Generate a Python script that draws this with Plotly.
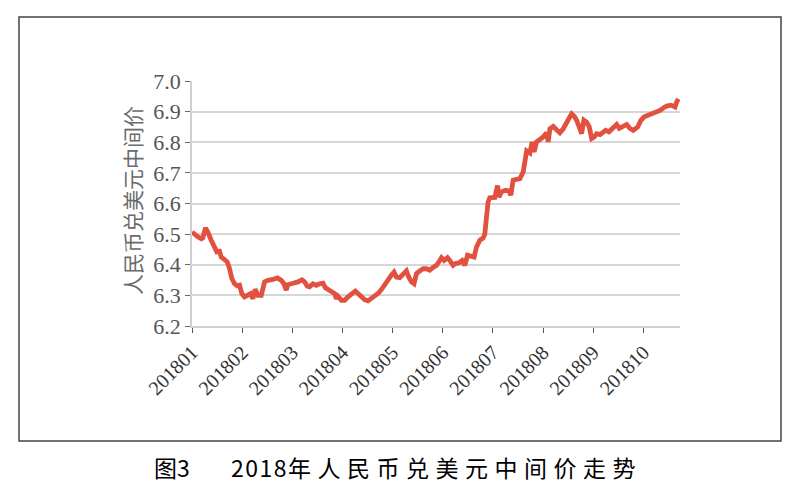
import plotly.graph_objects as go

# x position in months since 201801 (0 = Jan 2018), y = RMB/USD central parity
t = [0.000, 0.050, 0.116, 0.184, 0.216, 0.269, 0.315, 0.383, 0.449, 0.495,
     0.549, 0.583, 0.649, 0.703, 0.749, 0.794, 0.848, 0.902, 0.948, 0.994,
     1.048, 1.114, 1.168, 1.214, 1.261, 1.313, 1.381, 1.447, 1.513, 1.613,
     1.701, 1.780, 1.832, 1.880, 1.912, 1.980, 2.046, 2.112, 2.192, 2.246,
     2.299, 2.345, 2.411, 2.479, 2.545, 2.611, 2.659, 2.711, 2.778, 2.844,
     2.878, 2.910, 2.978, 3.044, 3.110, 3.178, 3.257, 3.310, 3.377, 3.443,
     3.509, 3.577, 3.643, 3.709, 3.776, 3.842, 3.908, 3.976, 4.028, 4.076,
     4.142, 4.208, 4.275, 4.321, 4.375, 4.427, 4.475, 4.541, 4.607, 4.675,
     4.741, 4.806, 4.874, 4.920, 4.974, 5.026, 5.094, 5.140, 5.206, 5.254,
     5.319, 5.385, 5.439, 5.493, 5.559, 5.625, 5.673, 5.739, 5.804, 5.838,
     5.872, 5.904, 5.938, 6.004, 6.038, 6.092, 6.118, 6.172, 6.251, 6.317,
     6.357, 6.403, 6.471, 6.537, 6.603, 6.637, 6.673, 6.737, 6.782, 6.822,
     6.870, 6.936, 7.002, 7.070, 7.102, 7.136, 7.202, 7.269, 7.335, 7.401,
     7.469, 7.527, 7.569, 7.621, 7.669, 7.720, 7.768, 7.814, 7.868, 7.920,
     7.968, 8.020, 8.068, 8.134, 8.200, 8.248, 8.313, 8.379, 8.467, 8.519,
     8.579, 8.667, 8.733, 8.798, 8.886, 8.952, 9.018, 9.098, 9.198, 9.265,
     9.331, 9.397, 9.465, 9.551, 9.597, 9.631, 9.665, 9.697]

rate = [6.507, 6.498, 6.491, 6.485, 6.488, 6.520, 6.507, 6.480, 6.458, 6.442,
        6.444, 6.425, 6.417, 6.409, 6.387, 6.355, 6.338, 6.331, 6.333, 6.306,
        6.295, 6.302, 6.306, 6.289, 6.320, 6.300, 6.300, 6.344, 6.349, 6.352,
        6.357, 6.349, 6.338, 6.317, 6.335, 6.338, 6.340, 6.344, 6.351, 6.344,
        6.330, 6.328, 6.338, 6.333, 6.338, 6.340, 6.325, 6.319, 6.314, 6.306,
        6.289, 6.297, 6.284, 6.284, 6.295, 6.306, 6.314, 6.306, 6.293, 6.286,
        6.282, 6.289, 6.295, 6.306, 6.319, 6.335, 6.355, 6.366, 6.376, 6.360,
        6.358, 6.369, 6.380, 6.360, 6.344, 6.338, 6.371, 6.380, 6.387, 6.387,
        6.382, 6.391, 6.398, 6.409, 6.423, 6.414, 6.423, 6.414, 6.398, 6.404,
        6.406, 6.414, 6.398, 6.431, 6.428, 6.425, 6.458, 6.480, 6.487, 6.500,
        6.556, 6.605, 6.619, 6.620, 6.620, 6.659, 6.621, 6.638, 6.643, 6.641,
        6.627, 6.676, 6.678, 6.681, 6.703, 6.752, 6.772, 6.765, 6.801, 6.768,
        6.801, 6.809, 6.817, 6.831, 6.801, 6.844, 6.852, 6.841, 6.831, 6.844,
        6.861, 6.877, 6.893, 6.885, 6.872, 6.850, 6.828, 6.872, 6.866, 6.850,
        6.812, 6.817, 6.828, 6.825, 6.831, 6.839, 6.834, 6.845, 6.858, 6.845,
        6.850, 6.858, 6.845, 6.839, 6.850, 6.872, 6.883, 6.888, 6.893, 6.899,
        6.904, 6.912, 6.918, 6.921, 6.919, 6.915, 6.932, 6.942]

month_labels = ["201801", "201802", "201803", "201804", "201805",
                "201806", "201807", "201808", "201809", "201810"]
month_pos = list(range(len(month_labels)))

y_title = "人民币兑美元中间价"
fig_label = "图3"
caption_year = "2018"
caption_rest = "年人民币兑美元中间价走势"

OFF = 8  # page body margin in the browser
W, H = 800 - OFF, 500 - OFF
L, R, T, B = 192 - OFF, 680 - OFF, 81 - OFF, 326 - OFF


def px(xp):
    return (xp - OFF - L) / (R - L)


def py(yp):
    return (B - (yp - OFF)) / (B - T)


fig = go.Figure()
fig.add_trace(go.Scatter(
    x=t, y=rate, mode="lines",
    line=dict(color="#E2513F", width=4.8),
    hoverinfo="x+y", showlegend=False,
))

fig.update_layout(
    width=W, height=H,
    margin=dict(l=L, r=W - R, t=T, b=H - B, pad=0),
    paper_bgcolor="white", plot_bgcolor="white",
    xaxis=dict(
        range=[0, 9.73], tickmode="array", tickvals=month_pos, ticktext=month_labels,
        tickangle=-45, ticks="outside", ticklen=5, tickcolor="#555",
        showgrid=False, zeroline=False,
        showline=True, linecolor="#cfcfcf", linewidth=1.5,
        tickfont=dict(family="Liberation Serif, Times New Roman, serif", size=20, color="#333"),
    ),
    yaxis=dict(
        range=[6.2, 7.0], dtick=0.1, tick0=6.2, tickformat=".1f",
        ticks="outside", ticklen=5, tickcolor="#666",
        showgrid=True, gridcolor="#d6d6d6", gridwidth=1.5,
        zeroline=False, showline=True, linecolor="#cfcfcf", linewidth=1.5,
        tickfont=dict(family="Liberation Serif, Times New Roman, serif", size=22, color="#555"),
    ),
    shapes=[dict(
        type="rect", xref="paper", yref="paper",
        x0=px(19), x1=px(781), y0=py(441), y1=py(17),
        line=dict(color="#444", width=1.5), fillcolor="rgba(0,0,0,0)", layer="below",
    )],
    annotations=[
        dict(text=y_title, xref="paper", yref="paper", x=px(132), y=py(201),
             showarrow=False, textangle=-90, xanchor="center", yanchor="middle",
             font=dict(family="Noto Sans CJK SC", size=21, color="#6a6a6a")),
        dict(text=fig_label, xref="paper", yref="paper", x=px(152), y=py(467),
             showarrow=False, xanchor="left", yanchor="middle",
             font=dict(family="Noto Sans CJK SC", size=23, color="#000")),
        dict(text='<span style="letter-spacing:1.5px">' + caption_year + '</span>'
                  + '<span style="letter-spacing:6.5px">' + caption_rest + '</span>',
             xref="paper", yref="paper", x=px(229), y=py(467),
             showarrow=False, xanchor="left", yanchor="middle",
             font=dict(family="Noto Sans CJK SC", size=23, color="#000")),
    ],
)

fig.write_html("out.html")
